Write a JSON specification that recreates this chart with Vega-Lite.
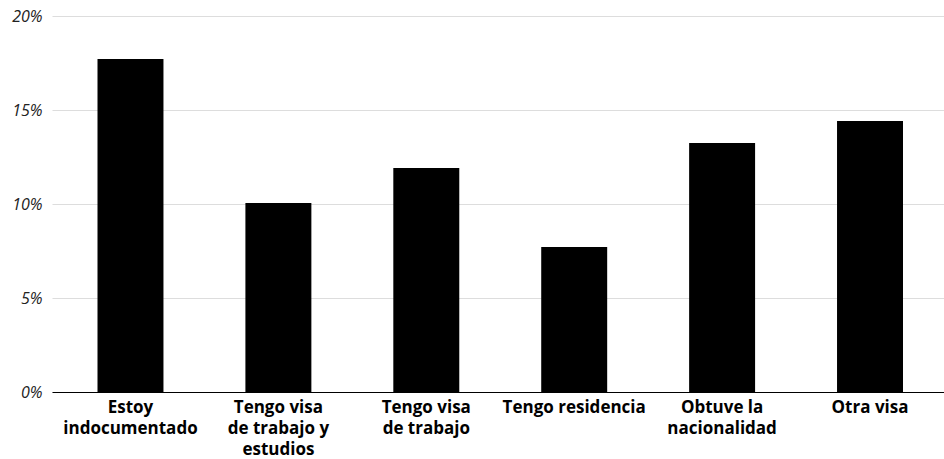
{
  "$schema": "https://vega.github.io/schema/vega-lite/v6.json",
  "autosize": {"type": "none"},
  "padding": {"left": 52, "top": 16, "right": 0, "bottom": 67},
  "width": 892,
  "height": 376,
  "background": "white",
  "config": {"view": {"stroke": null}, "font": "Open Sans"},
  "data": {"values": [
    {"categoria": "Estoy|indocumentado", "valor": 0.1771},
    {"categoria": "Tengo visa|de trabajo y|estudios", "valor": 0.1005},
    {"categoria": "Tengo visa|de trabajo", "valor": 0.1191},
    {"categoria": "Tengo residencia", "valor": 0.0771},
    {"categoria": "Obtuve la|nacionalidad", "valor": 0.1324},
    {"categoria": "Otra visa", "valor": 0.1441}
  ]},
  "mark": {"type": "bar", "color": "#000000"},
  "encoding": {
    "x": {
      "field": "categoria", "type": "nominal", "sort": null,
      "scale": {"paddingInner": 0.554, "paddingOuter": 0.2924, "align": 0.526},
      "axis": {
        "title": null, "labelAngle": 0, "ticks": false,
        "domainColor": "#000000", "domainWidth": 1.2,
        "labelExpr": "split(datum.label, '|')",
        "labelFont": "Open Sans", "labelFontSize": 17, "labelFontWeight": "bold",
        "labelColor": "#000000", "labelLineHeight": 21, "labelPadding": 7,
        "labelLimit": 0
      }
    },
    "y": {
      "field": "valor", "type": "quantitative",
      "scale": {"domain": [0, 0.2]},
      "axis": {
        "title": null, "format": ".0%", "values": [0, 0.05, 0.1, 0.15, 0.2],
        "domain": false, "ticks": false, "gridColor": "#dddddd",
        "labelFont": "Open Sans", "labelFontSize": 16, "labelFontStyle": "italic",
        "labelColor": "#222222", "labelPadding": 10
      }
    }
  }
}
